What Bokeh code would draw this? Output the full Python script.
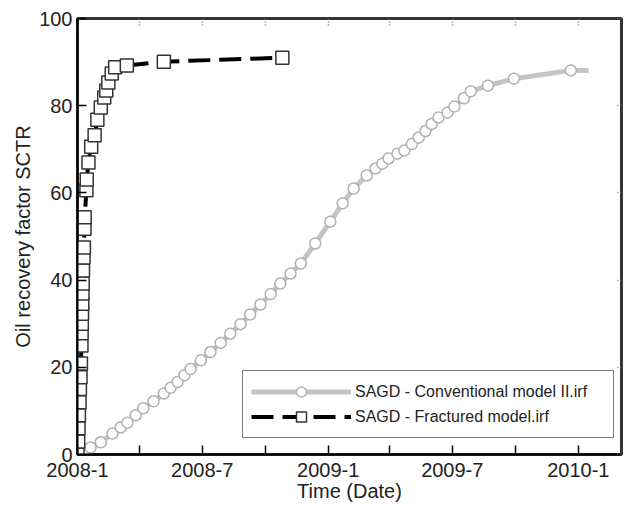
import pandas as pd
from bokeh.plotting import figure
from bokeh.models import (Range1d, FixedTicker, DatetimeAxis, LinearAxis, Legend, LegendItem)
from bokeh.embed import file_html
from bokeh.resources import INLINE

# ---- data ----
conv_dates = ["2008-01-08", "2008-01-20", "2008-02-04", "2008-02-21", "2008-03-04", "2008-03-14",
              "2008-03-26", "2008-04-06", "2008-04-21", "2008-05-06", "2008-05-16", "2008-05-26",
              "2008-06-05", "2008-06-14", "2008-06-29", "2008-07-13", "2008-07-28", "2008-08-11",
              "2008-08-26", "2008-09-09", "2008-09-24", "2008-10-09", "2008-10-23", "2008-11-07",
              "2008-11-22", "2008-12-13", "2009-01-04", "2009-01-22", "2009-02-07", "2009-02-26",
              "2009-03-11", "2009-03-21", "2009-03-30", "2009-04-12", "2009-04-22", "2009-05-03",
              "2009-05-13", "2009-05-23", "2009-06-01", "2009-06-11", "2009-06-24", "2009-07-04",
              "2009-07-18", "2009-07-28", "2009-08-22", "2009-09-29", "2009-12-21", "2010-01-16"]
conv_values = [0.5, 1.6, 2.8, 4.8, 6.2, 7.3,
               9.0, 10.6, 12.2, 14.0, 15.3, 16.6,
               18.2, 19.6, 21.6, 23.5, 25.6, 27.7,
               29.9, 32.1, 34.4, 36.8, 39.2, 41.5,
               43.8, 48.4, 53.4, 57.6, 61.0, 64.0,
               65.6, 66.7, 67.9, 69.0, 69.7, 71.2,
               72.7, 74.2, 75.8, 77.3, 78.4, 79.8,
               81.7, 83.3, 84.6, 86.2, 88.1, 88.1]

frac_dates = ["2008-01-01 00:00", "2008-01-02 00:00", "2008-01-02 12:00", "2008-01-03 00:00",
              "2008-01-04 00:00", "2008-01-04 12:00", "2008-01-05 10:00", "2008-01-06 00:00",
              "2008-01-06 19:00", "2008-01-07 00:00", "2008-01-07 07:00", "2008-01-07 14:00",
              "2008-01-08 00:00", "2008-01-08 07:00", "2008-01-08 14:00", "2008-01-09 00:00",
              "2008-01-09 19:00", "2008-01-10 07:00", "2008-01-11 05:00", "2008-01-11 12:00",
              "2008-01-14 00:00", "2008-01-14 12:00", "2008-01-17 00:00", "2008-01-21 00:00",
              "2008-01-26 00:00", "2008-01-30 00:00", "2008-02-04 00:00", "2008-02-09 00:00",
              "2008-02-12 00:00", "2008-02-15 00:00", "2008-02-20 00:00", "2008-02-25 00:00",
              "2008-03-13 00:00", "2008-05-06 00:00", "2008-10-26 00:00"]
frac_values = [0.0, 3.0, 6.0, 9.0,
               12.0, 15.0, 17.7, 20.9,
               25.0, 27.8, 30.0, 32.3,
               34.6, 36.9, 39.2, 42.2,
               45.2, 47.5, 51.8, 54.4,
               60.6, 63.1, 67.0, 70.6,
               73.2, 76.8, 79.6, 81.9,
               83.5, 85.3, 87.4, 88.8,
               89.2, 90.1, 91.0]

series_names = ["SAGD - Conventional model II.irf", "SAGD - Fractured model.irf"]
x_tick_dates = ["2008-01-01", "2008-07-01", "2009-01-01", "2009-07-01", "2010-01-01"]
x_tick_labels = ["2008-1", "2008-7", "2009-1", "2009-7", "2010-1"]
x_minor_dates = ["2008-04-01", "2008-10-01", "2009-04-01", "2009-10-01"]
y_ticks = [0, 20, 40, 60, 80, 100]
x_start, x_end = "2008-01-01", "2010-03-05"

FONT = "Liberation Sans"

def to_ms(s):
    return float((pd.Timestamp(s) - pd.Timestamp("1970-01-01")).total_seconds() * 1000.0)

major_ms = [to_ms(d) for d in x_tick_dates]
minor_ms = [to_ms(d) for d in x_minor_dates]

p = figure(width=628, height=506, x_axis_type="datetime",
           x_range=Range1d(start=pd.Timestamp(x_start), end=pd.Timestamp(x_end)),
           y_range=Range1d(0, 100),
           output_backend="svg", toolbar_location=None,
           min_border_left=77, min_border_right=7, min_border_top=18, min_border_bottom=52)
p.background_fill_color = "white"
p.border_fill_color = "white"
p.outline_line_color = "#333333"
p.outline_line_width = 3
p.xgrid.visible = False
p.ygrid.visible = False

cd = pd.to_datetime(conv_dates)
fd = pd.to_datetime(frac_dates)

r1l = p.line(cd, conv_values, line_color="#c4c4c4", line_width=5)
r1m = p.scatter(cd[:-1], conv_values[:-1], marker="circle", size=11, fill_color="white",
                line_color="#b0b0b0", line_width=1.5)
r2l = p.line(fd, frac_values, line_color="black", line_width=4, line_dash="22 9")
r2m = p.scatter(fd, frac_values, marker="square", size=13, fill_color="white",
                line_color="#333333", line_width=1.5)

# bottom axis
xa = p.xaxis[0]
xa.ticker = FixedTicker(ticks=major_ms, minor_ticks=minor_ms)
xa.major_label_overrides = {m: l for m, l in zip(major_ms, x_tick_labels)}
xa.axis_label = "Time (Date)"
xa.axis_label_text_font = FONT
xa.axis_label_text_font_size = "20px"
xa.axis_label_text_font_style = "normal"
xa.axis_label_text_color = "#222222"
xa.axis_label_standoff = 0
xa.major_label_text_font = FONT
xa.major_label_text_font_size = "20px"
xa.major_label_text_color = "#222222"
xa.major_label_standoff = 8
xa.axis_line_color = "black"
xa.axis_line_width = 2
xa.major_tick_in = 9
xa.major_tick_out = 0
xa.minor_tick_in = 9
xa.minor_tick_out = 0
xa.major_tick_line_color = "black"
xa.minor_tick_line_color = "black"
xa.major_tick_line_width = 1.5
xa.minor_tick_line_width = 1.5

# left axis
ya = p.yaxis[0]
ya.ticker = FixedTicker(ticks=y_ticks, minor_ticks=[])
ya.axis_label = "Oil recovery factor SCTR"
ya.axis_label_text_font = FONT
ya.axis_label_text_font_size = "20px"
ya.axis_label_text_font_style = "normal"
ya.axis_label_text_color = "#222222"
ya.axis_label_standoff = 2
ya.major_label_text_font = FONT
ya.major_label_text_font_size = "20px"
ya.major_label_text_color = "#222222"
ya.major_label_standoff = 5
ya.axis_line_color = "black"
ya.axis_line_width = 2
ya.major_tick_in = 9
ya.major_tick_out = 0
ya.major_tick_line_color = "black"
ya.major_tick_line_width = 1.5

# top and right decorative tick axes (no labels drawn)
top = DatetimeAxis(ticker=FixedTicker(ticks=major_ms + minor_ms, minor_ticks=[]))
top.major_label_text_font_size = "1px"
top.major_label_text_color = None
top.major_label_standoff = 0
top.axis_line_color = None
top.major_tick_in = 7
top.major_tick_out = 0
top.major_tick_line_color = "#666666"
top.major_tick_line_width = 1.5
top.major_tick_line_dash = "1 2"
top.minor_tick_line_color = None
p.add_layout(top, "above")

right = LinearAxis(ticker=FixedTicker(ticks=y_ticks, minor_ticks=[]))
right.major_label_text_font_size = "1px"
right.major_label_text_color = None
right.major_label_standoff = 0
right.axis_line_color = None
right.major_tick_in = 6
right.major_tick_out = 0
right.major_tick_line_color = "#666666"
right.major_tick_line_width = 1.5
right.major_tick_line_dash = "1 2"
right.minor_tick_line_color = None
p.add_layout(right, "right")

legend = Legend(items=[LegendItem(label=series_names[0], renderers=[r1l, r1m]),
                       LegendItem(label=series_names[1], renderers=[r2l, r2m])],
                location=(165, 16))
legend.label_text_font = FONT
legend.label_text_font_size = "16px"
legend.label_text_color = "#222222"
legend.glyph_width = 100
legend.glyph_height = 25
legend.label_height = 25
legend.label_width = 250
legend.spacing = 0
legend.padding = 8
legend.label_standoff = 4
legend.border_line_color = "black"
legend.border_line_width = 1.5
legend.background_fill_color = "white"
legend.background_fill_alpha = 1
p.add_layout(legend, "center")

open("out.html", "w").write(file_html(p, INLINE))
